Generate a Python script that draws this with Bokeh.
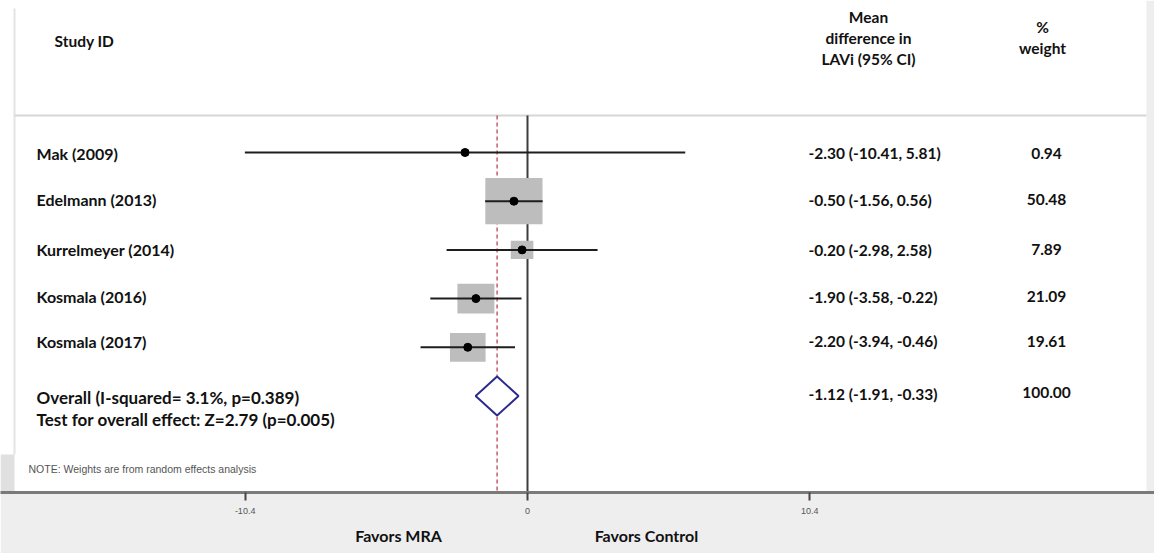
import math

from bokeh.core.properties import value
from bokeh.embed import file_html
from bokeh.models import ColumnDataSource, FixedTicker, LinearAxis, Range1d
from bokeh.plotting import figure
from bokeh.resources import INLINE

# ---- data -----------------------------------------------------------------
studies = ["Mak (2009)", "Edelmann (2013)", "Kurrelmeyer (2014)",
           "Kosmala (2016)", "Kosmala (2017)"]
mean_diff = [-2.30, -0.50, -0.20, -1.90, -2.20]
ci_low = [-10.41, -1.56, -2.98, -3.58, -3.94]
ci_high = [5.81, 0.56, 2.58, -0.22, -0.46]
weights = [0.94, 50.48, 7.89, 21.09, 19.61]

overall_md = -1.12
overall_low = -1.91
overall_high = -0.33
overall_weight = 100.00
overall_label = "Overall (I-squared= 3.1%, p=0.389)"
overall_test = "Test for overall effect: Z=2.79 (p=0.005)"

tick_values = [-10.4, 0, 10.4]
tick_labels = ["-10.4", "0", "10.4"]
favour_labels = ["Favors MRA", "Favors Control"]
favour_pos = [-4.75, 4.38]

# ---- layout (pixel geometry of the canvas) ---------------------------------
W, H = 1154, 553
FRAME_H = 492          # bottom of the plotting frame / axis line
ZERO_PX = 527          # horizontal pixel of x = 0
PX_PER_UNIT = 27.15    # pixels per unit of mean difference
ROW0_PX = 152          # vertical pixel of the first study row
ROW_STEP = 48.7        # pixels between rows
LABEL_NUDGE = [0.5, -1.5, 0, -2, -6]   # small vertical shifts of row labels, px


def sx(px):
    return (px - ZERO_PX) / PX_PER_UNIT


def sy(py):
    return (py - ROW0_PX) / ROW_STEP


FONT = value("Lato")
BOX_W = 8.05 / PX_PER_UNIT   # box width per sqrt(weight), data units
BOX_H = 6.5 / ROW_STEP       # box height per sqrt(weight), row units

p = figure(width=W, height=H, output_backend="svg", toolbar_location=None,
           x_range=Range1d(sx(0), sx(W)), y_range=Range1d(sy(FRAME_H), sy(0)),
           x_axis_type=None, y_axis_type=None,
           min_border_left=0, min_border_right=0, min_border_top=0,
           min_border_bottom=H - FRAME_H)
p.outline_line_color = None
p.background_fill_color = "white"
p.border_fill_color = "#eeeeee"

# page decoration: side strips and header rule
p.quad(left=[sx(1146)], right=[sx(W)], top=[sy(0)], bottom=[sy(FRAME_H)],
       fill_color="#eeeeee", line_color=None)
p.quad(left=[sx(0)], right=[sx(14)], top=[sy(454)], bottom=[sy(FRAME_H)],
       fill_color="#e0e0e0", line_color=None)
p.segment(x0=[sx(14)], y0=[sy(8)], x1=[sx(14)], y1=[sy(454)],
          line_color="#e4e4e4", line_width=2)
p.segment(x0=[sx(14)], y0=[sy(115)], x1=[sx(1146)], y1=[sy(115)],
          line_color="#d6d6d6", line_width=2)

# reference lines: no effect and pooled estimate
p.segment(x0=[0], y0=[sy(115)], x1=[0], y1=[sy(FRAME_H)],
          line_color="#3c3c3c", line_width=2)
p.segment(x0=[overall_md], y0=[sy(115)], x1=[overall_md], y1=[sy(FRAME_H)],
          line_color="#c0405a", line_width=1.3, line_dash="4 3")

rows = list(range(len(studies)))
src = ColumnDataSource(dict(
    y=rows, md=mean_diff, lo=ci_low, hi=ci_high,
    ty=[r + n / ROW_STEP for r, n in zip(rows, LABEL_NUDGE)],
    bw=[BOX_W * math.sqrt(w) for w in weights],
    bh=[BOX_H * math.sqrt(w) for w in weights],
    study=studies,
    ci=[f"{m:.2f} ({l:.2f}, {h:.2f})" for m, l, h in zip(mean_diff, ci_low, ci_high)],
    wt=[f"{w:.2f}" for w in weights],
))

p.rect(x="md", y="y", width="bw", height="bh", source=src,
       fill_color="#bdbdbd", line_color=None)
p.segment(x0="lo", y0="y", x1="hi", y1="y", source=src,
          line_color="#1e1e1e", line_width=2)
p.scatter(x="md", y="y", source=src, size=8, color="black")

# pooled diamond
ov_row = len(studies)
half_h = 19.5 / ROW_STEP
p.patch(x=[overall_low, overall_md, overall_high, overall_md],
        y=[ov_row, ov_row - half_h, ov_row, ov_row + half_h],
        fill_color="white", line_color="#2b2b8c", line_width=2)

# text columns
txt = dict(text_font=FONT, text_font_style="bold", text_color="#111111",
           text_baseline="middle")
p.text(x=sx(36), y="ty", text="study", source=src, text_font_size="16px",
       text_align="left", **txt)
p.text(x=sx(808), y="ty", text="ci", source=src, text_font_size="15.5px",
       text_align="left", **txt)
p.text(x=sx(1046), y="ty", text="wt", source=src, text_font_size="15.5px",
       text_align="center", **txt)

p.text(x=[sx(36)], y=[sy(397)], text=[overall_label], text_font_size="17px",
       text_align="left", **txt)
p.text(x=[sx(36)], y=[sy(419)], text=[overall_test], text_font_size="17px",
       text_align="left", **txt)
p.text(x=[sx(808)], y=[sy(393)],
       text=[f"{overall_md:.2f} ({overall_low:.2f}, {overall_high:.2f})"],
       text_font_size="15.5px", text_align="left", **txt)
p.text(x=[sx(1046)], y=[sy(392)], text=[f"{overall_weight:.2f}"],
       text_font_size="15.5px", text_align="center", **txt)

# headers
p.text(x=[sx(54)], y=[sy(40)], text=["Study ID"], text_font_size="15.5px",
       text_align="left", **txt)
p.text(x=[sx(868)] * 3, y=[sy(16), sy(37), sy(58)],
       text=["Mean", "difference in", "LAVi (95% CI)"], text_font_size="15.5px",
       text_align="center", **txt)
p.text(x=[sx(1042)] * 2, y=[sy(26), sy(47)], text=["%", "weight"],
       text_font_size="15.5px", text_align="center", **txt)

p.text(x=[sx(28)], y=[sy(468)],
       text=["NOTE: Weights are from random effects analysis"],
       text_font=value("Liberation Sans"), text_font_size="10.5px",
       text_color="#555555", text_baseline="middle", text_align="left")

# x axis with the effect-size ticks
xaxis = LinearAxis(ticker=FixedTicker(ticks=tick_values))
xaxis.major_label_overrides = {v: s for v, s in zip(tick_values, tick_labels)}
xaxis.axis_line_color = "#7a7a7a"
xaxis.axis_line_width = 3
xaxis.major_tick_line_color = "#444444"
xaxis.major_tick_line_width = 2
xaxis.major_tick_out = 8
xaxis.major_tick_in = 0
xaxis.minor_tick_line_color = None
xaxis.major_label_text_font = "Liberation Sans"
xaxis.major_label_text_font_size = "9px"
xaxis.major_label_text_color = "#555555"
xaxis.major_label_standoff = 7
p.add_layout(xaxis, "below")

# direction labels beneath the axis
faxis = LinearAxis(ticker=FixedTicker(ticks=favour_pos))
faxis.major_label_overrides = {pos: lab for pos, lab in zip(favour_pos, favour_labels)}
faxis.axis_line_color = None
faxis.major_tick_line_color = None
faxis.minor_tick_line_color = None
faxis.major_tick_out = 0
faxis.major_tick_in = 0
faxis.major_label_text_font = "Lato"
faxis.major_label_text_font_style = "bold"
faxis.major_label_text_font_size = "16px"
faxis.major_label_text_color = "#111111"
faxis.major_label_standoff = 9
p.add_layout(faxis, "below")

open("out.html", "w").write(file_html(p, INLINE))
